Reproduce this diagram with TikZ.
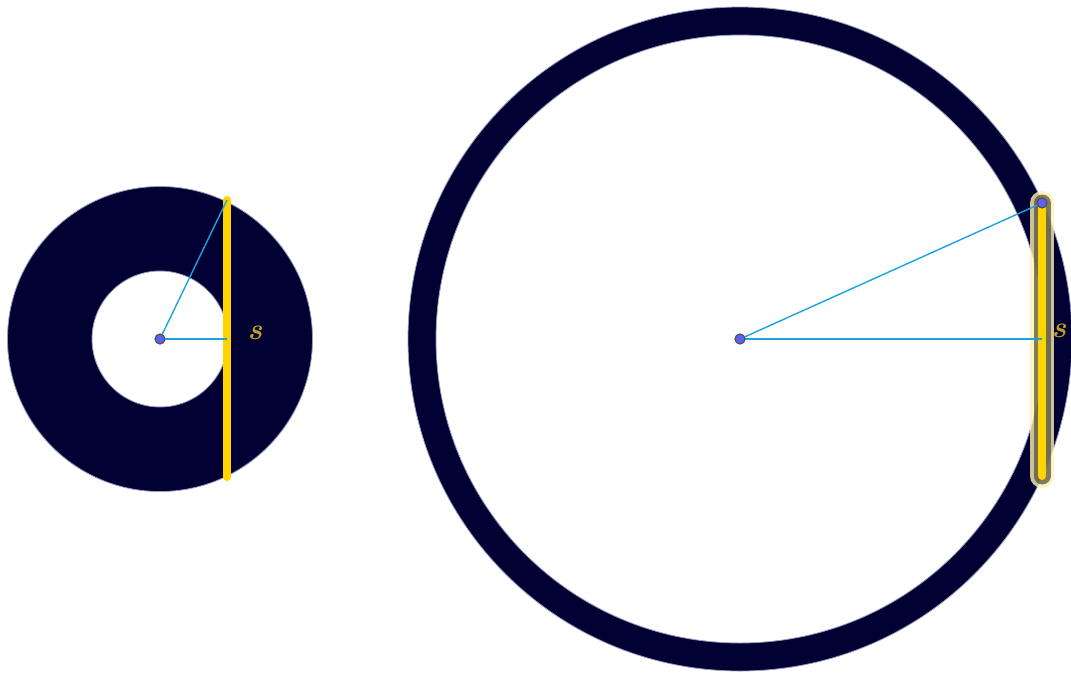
\documentclass[tikz,border=0pt]{standalone}
\usepackage{fontspec}
\usetikzlibrary{calc}
\definecolor{ringc}{HTML}{000033}
\definecolor{ringedge}{HTML}{9A9AC0}
\definecolor{segy}{HTML}{FFD400}
\definecolor{glowy}{HTML}{FFF3B0}
\definecolor{radc}{HTML}{1AA3DD}
\definecolor{dotc}{HTML}{6060EE}
\definecolor{labc}{HTML}{C0A020}
\tikzset{
  ring/.style={fill=ringc, even odd rule, draw=ringedge, line width=0.8pt},
  seg/.style={draw=segy, line width=8pt, line cap=round},
  radius line/.style={draw=radc, line width=1.4pt},
  dot/.style={circle, fill=dotc, draw=black!70, line width=0.9pt, inner sep=0pt, minimum size=10pt},
  lab/.style={text=labc, font=\fontsize{30}{30}\selectfont\bfseries\itshape, inner sep=0pt}
}
\begin{document}
\begin{tikzpicture}[x=1pt,y=-1pt]
\useasboundingbox (0,0) rectangle (1071,675);
% left annulus
\path[ring] (160,339) circle[radius=152.5] (160,339) circle[radius=68];
\coordinate (LT) at (227,200);
\coordinate (LB) at (227,477);
\coordinate (LM) at (227,339);
\draw[seg] (LT) -- (LB);
\node[dot] (LC) at (160,339) {};
\draw[radius line] (LC.center) -- (LT);
\draw[radius line] (LC.center) -- (LM);
\node[dot] (LC2) at (160,339) {};
\node[lab] (LS) at (255,333) {s};
% right ring
\path[ring] (740,339) circle[radius=332] (740,339) circle[radius=304];
\coordinate (RT) at (1042,203);
\coordinate (RB) at (1042,476);
\coordinate (RM) at (1042,339);
\draw[glowy, line width=24pt, line cap=round, opacity=0.8] (RT) -- (RB);
\draw[black!70!glowy, line width=17pt, line cap=round, opacity=0.7] (RT) -- (RB);
\draw[seg] (RT) -- (RB);
\node[dot] (RC) at (740,339) {};
\node[dot] (RD) at (RT) {};
\draw[radius line] (RC.center) -- (RD.center);
\draw[radius line] (RC.center) -- (RM);
\node[dot] at (740,339) {};
\node[dot] at (RT) {};
\node[lab] (RS) at (1059,331) {s};
\end{tikzpicture}
\end{document}
